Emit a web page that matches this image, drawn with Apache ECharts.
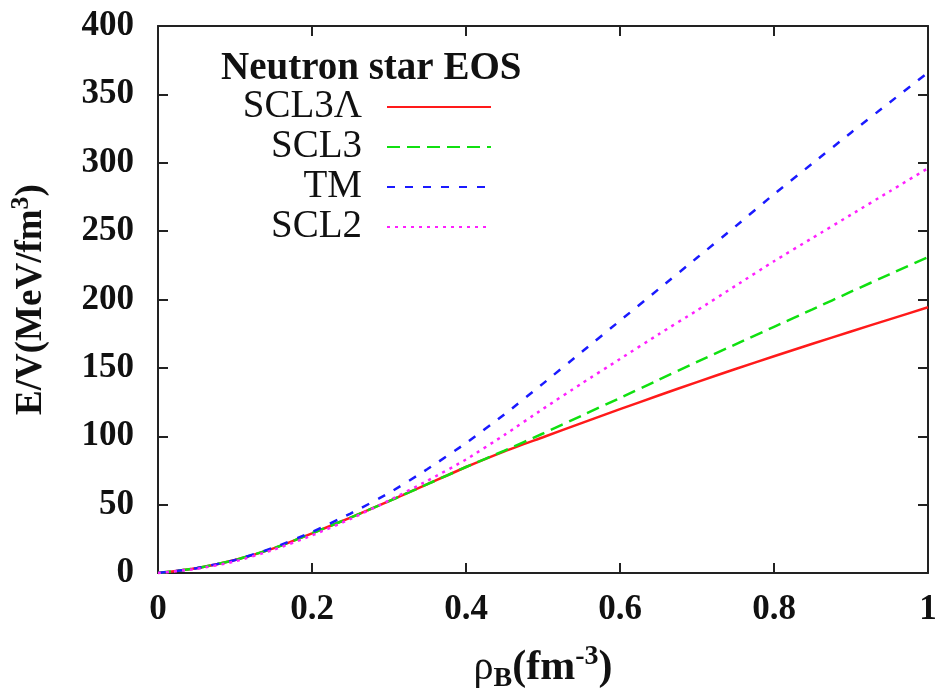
<!DOCTYPE html>
<html>
<head>
<meta charset="utf-8">
<script src="https://cdn.jsdelivr.net/npm/echarts@6/dist/echarts.min.js"></script>
<style>
  html, body { margin: 0; padding: 0; background: #fff; }
  #chart { width: 939px; height: 695px; }
</style>
</head>
<body>
<div id="chart"></div>
<script>
// Baryon density grid (fm^-3)
const rho = [0, 0.05, 0.1, 0.15, 0.2, 0.25, 0.3, 0.35, 0.4, 0.45, 0.5,
             0.55, 0.6, 0.65, 0.7, 0.75, 0.8, 0.85, 0.9, 0.95, 1.0];

// Energy density E/V (MeV/fm^3) for each equation of state
const scl3Lambda = [0, 3.5, 9.5, 18, 29, 40.5, 52.5, 65, 77.5, 89, 99.3,
                    109.6, 119.8, 129.8, 139.6, 149.2, 158.5, 167.6, 176.6, 185.5, 194.3];
const scl3 = [0, 3.5, 9.5, 18, 29, 40.5, 52.5, 65, 77.5, 89.5, 102,
              115, 128, 141.2, 154.4, 167.2, 180, 192.8, 205.7, 218.4, 231];
const tm = [0, 3.5, 9.5, 18.5, 30, 43.5, 58.5, 76, 95, 116, 138.5,
            161.5, 184.5, 207.5, 230.5, 253.5, 277, 299.5, 322, 344, 366];
const scl2 = [0, 3, 8.5, 17, 27.5, 39.5, 53, 67.5, 83, 101, 120,
              138.5, 156.5, 174.5, 192, 210, 228, 245, 262, 279, 296];

const seriesNames = ['SCL3Λ', 'SCL3', 'TM', 'SCL2'];

const serif = '"Liberation Serif", "DejaVu Serif", serif';

function pairs(ys) { return rho.map((x, i) => [x, ys[i]]); }

const lineSeries = [
  { name: seriesNames[0], values: scl3Lambda, color: '#ff1a1a', dash: 'solid' },
  { name: seriesNames[1], values: scl3,       color: '#10e010', dash: [13, 7] },
  { name: seriesNames[2], values: tm,         color: '#1a1aff', dash: [8, 10] },
  { name: seriesNames[3], values: scl2,       color: '#ff20ff', dash: [3, 5] }
].map(s => ({
  name: s.name,
  type: 'line',
  data: pairs(s.values),
  smooth: 0.2,
  symbol: 'none',
  color: s.color,
  lineStyle: { color: s.color, width: 2.5, type: s.dash },
  emphasis: { disabled: true }
}));

const axisLine = { show: true, onZero: false, lineStyle: { color: '#222', width: 2 } };
const tickIn = { show: true, inside: true, length: 10, lineStyle: { color: '#222', width: 2 } };
const tickFont = { fontFamily: serif, fontWeight: 'bold', fontSize: 35, color: '#111' };

const chart = echarts.init(document.getElementById('chart'), null, { renderer: 'canvas' });
chart.setOption({
  animation: false,
  backgroundColor: '#fff',
  grid: { left: 158, top: 26, right: 11, bottom: 122, containLabel: false, outerBoundsMode: 'none' },
  title: {
    text: 'Neutron star EOS',
    left: 216, top: 44,
    textStyle: { fontFamily: serif, fontWeight: 'bold', fontSize: 39, color: '#111' }
  },
  legend: {
    orient: 'vertical',
    right: 447, top: 87,
    align: 'right',
    itemWidth: 104, itemHeight: 2, itemGap: 0,
    padding: 0,
    data: seriesNames,
    selectedMode: false,
    itemStyle: { opacity: 0, borderWidth: 0 },
    textStyle: {
      fontFamily: serif, fontSize: 39, color: '#111',
      width: 140, align: 'right', lineHeight: 40, padding: [0, 20, 0, 0]
    }
  },
  xAxis: [
    {
      type: 'value', min: 0, max: 1, interval: 0.2, position: 'bottom',
      axisLine, axisTick: tickIn, splitLine: { show: false },
      axisLabel: Object.assign({ margin: 19, formatter: v => String(+v.toFixed(1)) }, tickFont),
      name: '{r|ρ}{s|B}{a|(fm}{p|-3}{a|)}',
      nameLocation: 'middle', nameGap: 70,
      nameTextStyle: {
        rich: {
          r: { fontFamily: serif, fontSize: 40, lineHeight: 50, color: '#111', verticalAlign: 'middle' },
          a: { fontFamily: serif, fontWeight: 'bold', fontSize: 42, lineHeight: 50, color: '#111', verticalAlign: 'middle' },
          s: { fontFamily: serif, fontWeight: 'bold', fontSize: 28, lineHeight: 26, color: '#111', verticalAlign: 'bottom' },
          p: { fontFamily: serif, fontWeight: 'bold', fontSize: 28, lineHeight: 26, color: '#111', verticalAlign: 'top' }
        }
      }
    },
    {
      type: 'value', min: 0, max: 1, interval: 0.2, position: 'top',
      axisLine, axisTick: tickIn, axisLabel: { show: false }, splitLine: { show: false }
    }
  ],
  yAxis: [
    {
      type: 'value', min: 0, max: 400, interval: 50, position: 'left',
      axisLine, axisTick: tickIn, splitLine: { show: false },
      axisLabel: Object.assign({ margin: 24 }, tickFont),
      name: '{a|E/V(MeV/fm}{p|3}{a|)}',
      nameLocation: 'middle', nameGap: 104, nameRotate: 90,
      nameTextStyle: {
        rich: {
          a: { fontFamily: serif, fontWeight: 'bold', fontSize: 37, lineHeight: 46, color: '#111', verticalAlign: 'middle' },
          p: { fontFamily: serif, fontWeight: 'bold', fontSize: 26, lineHeight: 24, color: '#111', verticalAlign: 'top' }
        }
      }
    },
    {
      type: 'value', min: 0, max: 400, interval: 50, position: 'right',
      axisLine, axisTick: tickIn, axisLabel: { show: false }, splitLine: { show: false }
    }
  ],
  series: lineSeries
});
</script>
</body>
</html>
